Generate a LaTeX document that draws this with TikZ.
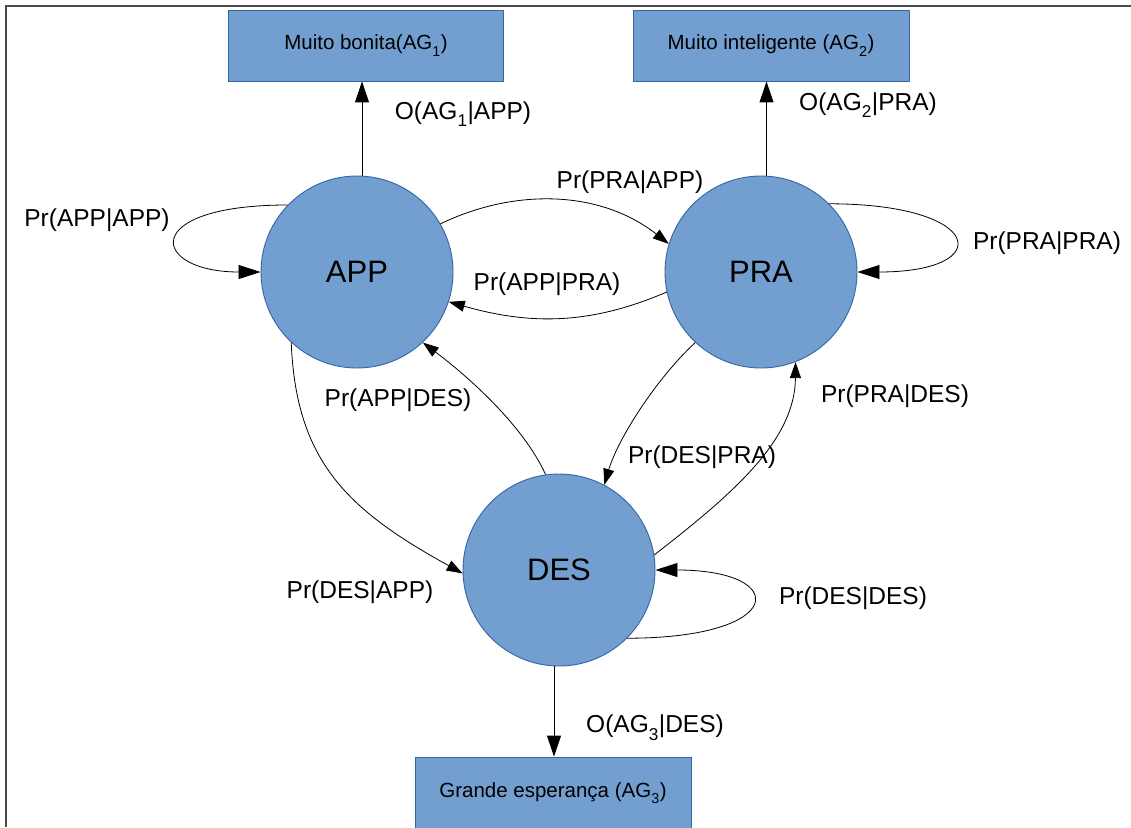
\documentclass[tikz,border=0pt]{standalone}
\usepackage{fontspec}
\setmainfont{Liberation Sans}
\usetikzlibrary{arrows.meta,calc}
\definecolor{stfill}{HTML}{729FCF}
\definecolor{stline}{HTML}{3465A4}
\definecolor{framegray}{HTML}{4A4A4A}
% lowered small index, as in AG_1
\newcommand\agidx[1]{\raisebox{-0.3ex}{\textsubscript{#1}}}

\begin{document}
\begin{tikzpicture}[x=1pt,y=-1pt,
  state/.style={circle, fill=stfill, draw=stline, line width=0.9pt,
    minimum size=192pt, inner sep=0pt, font=\fontsize{31}{36}\selectfont},
  goal/.style={rectangle, fill=stfill, draw=stline, line width=0.9pt,
    minimum width=275pt, minimum height=71pt, inner sep=0pt,
    font=\fontsize{20.5}{24}\selectfont},
  prob/.style={inner sep=0pt, font=\fontsize{24.5}{29}\selectfont},
  trans/.style={draw=black, line width=0.8pt, -{Triangle[length=16pt,width=11pt]}},
  selfloop/.style={draw=black, line width=0.8pt, -{Triangle[length=22pt,width=14pt]}},
  emit/.style={draw=black, line width=1pt, -{Triangle[length=21pt,width=14pt]}},
]
\useasboundingbox (0,0) rectangle (1131,827);

% outer frame (top and left edges)
\draw[framegray, line width=2.2pt] (6,827) -- (6,6) -- (1131,6);

% observation boxes
\node[goal] (ag1) at (366,45.5) {Muito bonita(AG\agidx{1})};
\node[goal, minimum width=276pt] (ag2) at (771,45.5) {Muito inteligente (AG\agidx{2})};
\node[goal, minimum width=276pt, minimum height=72pt] (ag3) at (553,793) {Grande esperança (AG\agidx{3})};

% hidden states
\node[state] (APP) at (357,272) {APP};
\node[state] (PRA) at (761,272) {PRA};
\node[state] (DES) at (559,570) {DES};

% emissions
\coordinate (appTop) at ($(APP.north)+(5,0)$);
\coordinate (praTop) at ($(PRA.north)+(5.5,0)$);
\coordinate (desBot) at ($(DES.south)+(-5,0)$);
\draw[emit] (appTop) -- (appTop |- ag1.south);
\draw[emit] (praTop) -- (praTop |- ag2.south);
\draw[emit] (desBot) -- (desBot |- ag3.north);

% self transitions
\draw[selfloop] (APP.136) .. controls ($(APP.136)+(-150,0)$) and ($(APP.west)+(-110,0)$) .. (APP.west);
\draw[selfloop] (PRA.45) .. controls ($(PRA.45)+(155,0)$) and ($(PRA.east)+(140,0)$) .. (PRA.east);
\draw[selfloop] (DES.-45) .. controls ($(DES.-45)+(160,0)$) and ($(DES.east)+(135,0)$) .. (DES.east);

% transitions between states
\draw[trans] (APP.30) .. controls (515,188) and (600,190) .. (PRA.163);
\draw[trans] (PRA.192) .. controls (590,325) and (530,325) .. (APP.-18);
\draw[trans] (DES.98) .. controls (523,425) and (467.5,376) .. (APP.-47);
\draw[trans] (APP.227) .. controls (296,462) and (348,510) .. (DES.182);
\draw[trans] (PRA.227.5) .. controls (655,380) and (617.5,440) .. (DES.62);
\draw[trans] (DES.9.5) .. controls (734,493) and (795,440) .. (PRA.-69);

% probability labels
\node[prob] (oApp) at (463,114) {O(AG\agidx{1}|APP)};
\node[prob] (oPra) at (868,105) {O(AG\agidx{2}|PRA)};
\node[prob] (oDes) at (655,728) {O(AG\agidx{3}|DES)};
\node[prob] (pAA) at (97,220) {Pr(APP|APP)};
\node[prob] (pPP) at (1047,243) {Pr(PRA|PRA)};
\node[prob] (pDD) at (853,598) {Pr(DES|DES)};
\node[prob] (pPA) at (630,182) {Pr(PRA|APP)};
\node[prob] (pAP) at (547,284) {Pr(APP|PRA)};
\node[prob] (pAD) at (398,400) {Pr(APP|DES)};
\node[prob] (pDA) at (360,592) {Pr(DES|APP)};
\node[prob] (pDP) at (702,457) {Pr(DES|PRA)};
\node[prob] (pPD) at (895,396) {Pr(PRA|DES)};
\end{tikzpicture}
\end{document}
